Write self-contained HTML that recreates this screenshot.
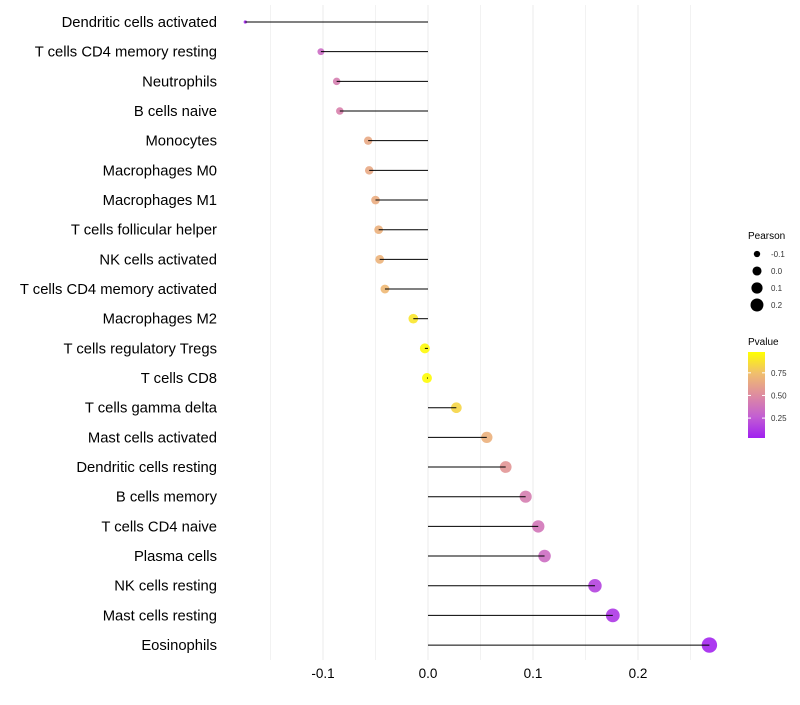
<!DOCTYPE html>
<html><head><meta charset="utf-8"><style>
body{margin:0;background:#fff;font-family:"Liberation Sans",sans-serif}
</style></head><body>
<svg id="c" width="800" height="700" xmlns="http://www.w3.org/2000/svg"></svg>
<script>
const categories=["Dendritic cells activated","T cells CD4 memory resting","Neutrophils","B cells naive","Monocytes","Macrophages M0","Macrophages M1","T cells follicular helper","NK cells activated","T cells CD4 memory activated","Macrophages M2","T cells regulatory  Tregs ","T cells CD8","T cells gamma delta","Mast cells activated","Dendritic cells resting","B cells memory","T cells CD4 naive","Plasma cells","NK cells resting","Mast cells resting","Eosinophils"];
const pearson=[-0.174,-0.102,-0.087,-0.084,-0.057,-0.056,-0.050,-0.047,-0.046,-0.041,-0.014,-0.003,-0.001,0.027,0.056,0.074,0.093,0.105,0.111,0.159,0.176,0.268];
const pvalue=[0.02,0.32,0.42,0.44,0.64,0.64,0.66,0.68,0.69,0.72,0.90,0.98,0.99,0.84,0.68,0.55,0.42,0.38,0.33,0.14,0.09,0.02];
const xTicks=[-0.1,0,0.1,0.2];
const xTickLabels=["-0.1","0.0","0.1","0.2"];
const gridMinor=[-0.15,-0.05,0.05,0.15,0.25];
const sizeBreaks=[-0.1,0,0.1,0.2];
const pBreaks=[0.25,0.5,0.75];

const NS="http://www.w3.org/2000/svg",svg=document.getElementById('c');
function el(t,a,p){const e=document.createElementNS(NS,t);for(const k in a)e.setAttribute(k,a[k]);(p||svg).appendChild(e);return e;}
const xs=v=>428+v*1050;
const ys=i=>22+i*29.67;
const rs=v=>Math.sqrt(Math.max(0.5,20.66+105.8*v));
const rp=v=>rs(v)*1.1;
const stops=[[0,[160,32,240]],[0.25,[195,95,210]],[0.5,[222,140,160]],[0.75,[240,190,110]],[1,[255,255,0]]];
function col(p){for(let i=1;i<stops.length;i++){if(p<=stops[i][0]){const a=stops[i-1],b=stops[i],t=(p-a[0])/(b[0]-a[0]);return 'rgb('+a[1].map((c,j)=>Math.round(c+(b[1][j]-c)*t)).join(',')+')';}}return 'rgb(255,255,0)';}

const grid=el('g',{});


gridMinor.forEach(v=>el('line',{x1:xs(v),x2:xs(v),y1:5,y2:660,stroke:'#f2f2f2','stroke-width':1},grid));
xTicks.forEach(v=>el('line',{x1:xs(v),x2:xs(v),y1:5,y2:660,stroke:'#ebebeb','stroke-width':1},grid));

categories.forEach((c,i)=>{
  const y=ys(i);
  const t=el('text',{x:217,y:y+5,'text-anchor':'end','font-size':14.8,fill:'#000'});
  t.textContent=c;
  
  
  const d=el('circle',{cx:xs(pearson[i]),cy:y,r:rp(pearson[i]),fill:col(pvalue[i]),'fill-opacity':0.9});
  
  
  const l=el('line',{x1:xs(0),x2:xs(pearson[i]),y1:y,y2:y,stroke:'#000','stroke-width':1});
  
  
});
xTicks.forEach((v,i)=>{
  const t=el('text',{x:xs(v),y:678,'text-anchor':'middle','font-size':13.5,fill:'#000'});
  t.textContent=xTickLabels[i];
  
  
});
const lg=el('g',{});


let t=el('text',{x:748,y:239,'font-size':10,fill:'#000'},lg);t.textContent='Pearson';
sizeBreaks.forEach((v,i)=>{
  const y=254+i*17;
  el('circle',{cx:757,cy:y,r:rs(v),fill:'#000'},lg);
  const tt=el('text',{x:771,y:y+3,'font-size':8,fill:'#333'},lg);tt.textContent=v===0?'0.0':v.toFixed(1);
});
const pg=el('g',{});


t=el('text',{x:748,y:345,'font-size':10,fill:'#000'},pg);t.textContent='Pvalue';
const defs=el('defs',{});
const gr=el('linearGradient',{id:'pg',x1:0,y1:1,x2:0,y2:0},defs);
stops.forEach(s=>el('stop',{offset:s[0],'stop-color':col(s[0])},gr));
el('rect',{x:748,y:352,width:17,height:86,fill:'url(#pg)'},pg);
const pY=p=>438-(p-0.03)*(86/0.95);
pBreaks.forEach(p=>{
  el('line',{x1:748,x2:751,y1:pY(p),y2:pY(p),stroke:'#fff'},pg);
  el('line',{x1:762,x2:765,y1:pY(p),y2:pY(p),stroke:'#fff'},pg);
  const tt=el('text',{x:771,y:pY(p)+3,'font-size':8,fill:'#333'},pg);tt.textContent=p.toFixed(2);
});
</script>
</body></html>
